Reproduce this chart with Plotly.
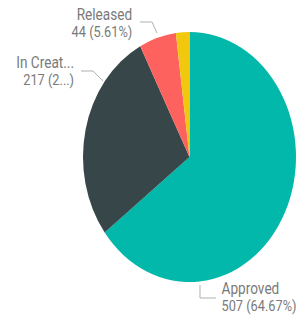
import plotly.graph_objects as go

labels = ["Approved", "In Creation", "Released", "Rejected"]
values = [507, 217, 44, 16]
colors = ["#01B8AA", "#374649", "#FD625E", "#F2C80F"]
name_text = ["Approved", "In Creat...", "Released", None]
value_text = ["507 (64.67%)", "217 (2...)", "44 (5.61%)", None]

W, H = 349, 315
S = 0.852  # horizontal squish of the reference rendering


def px(xs):
    return xs / S / W


def py(ys):
    return 1 - ys / H


fig = go.Figure(go.Pie(
    labels=labels, values=values, sort=False, direction="clockwise", rotation=0,
    marker=dict(colors=colors, line=dict(width=0)),
    textinfo="none", hoverinfo="label+value+percent", showlegend=False,
    domain=dict(x=[(222.4 - 125) / W, (222.4 + 125) / W], y=[(H - 282) / H, (H - 32) / H]),
))

font = dict(family="Roboto, sans-serif", size=13, color="#7a7a7a")


def lab(i):
    return f"<span style='font-size:16px'>{name_text[i]}</span><br><span style='font-size:15px'>{value_text[i]}</span>"


ann = [
    dict(x=px(134), y=py(23), text=lab(2), xanchor="right", yanchor="middle", align="right"),
    dict(x=px(76), y=py(71), text=lab(1), xanchor="right", yanchor="middle", align="right"),
    dict(x=px(220), y=py(297), text=lab(0), xanchor="left", yanchor="middle", align="left"),
]
for a in ann:
    a.update(xref="paper", yref="paper", showarrow=False, font=font)

line = dict(color="#AAAAAA", width=1)
shapes = [
    dict(type="path", xref="paper", yref="paper",
         path=f"M {px(140)} {py(22)} L {px(152)} {py(22)} L {px(157)} {py(33)}", line=line),
    dict(type="path", xref="paper", yref="paper",
         path=f"M {px(81)} {py(71)} L {px(93)} {py(71)} L {px(103)} {py(81)}", line=line),
    dict(type="path", xref="paper", yref="paper",
         path=f"M {px(200)} {py(285)} L {px(200)} {py(298)} L {px(216)} {py(298)}", line=line),
]

fig.update_layout(
    width=W, height=H, margin=dict(l=0, r=0, t=0, b=0),
    paper_bgcolor="white", plot_bgcolor="white",
    annotations=ann, shapes=shapes,
)

post = ("var d=document.getElementById('{plot_id}');"
        "d.style.transform='scaleX(" + str(S) + ")';d.style.transformOrigin='0 0';"
        "document.body.style.margin='0';document.body.style.overflow='hidden';")
fig.write_html("out.html", post_script=post, config={"displayModeBar": False})
